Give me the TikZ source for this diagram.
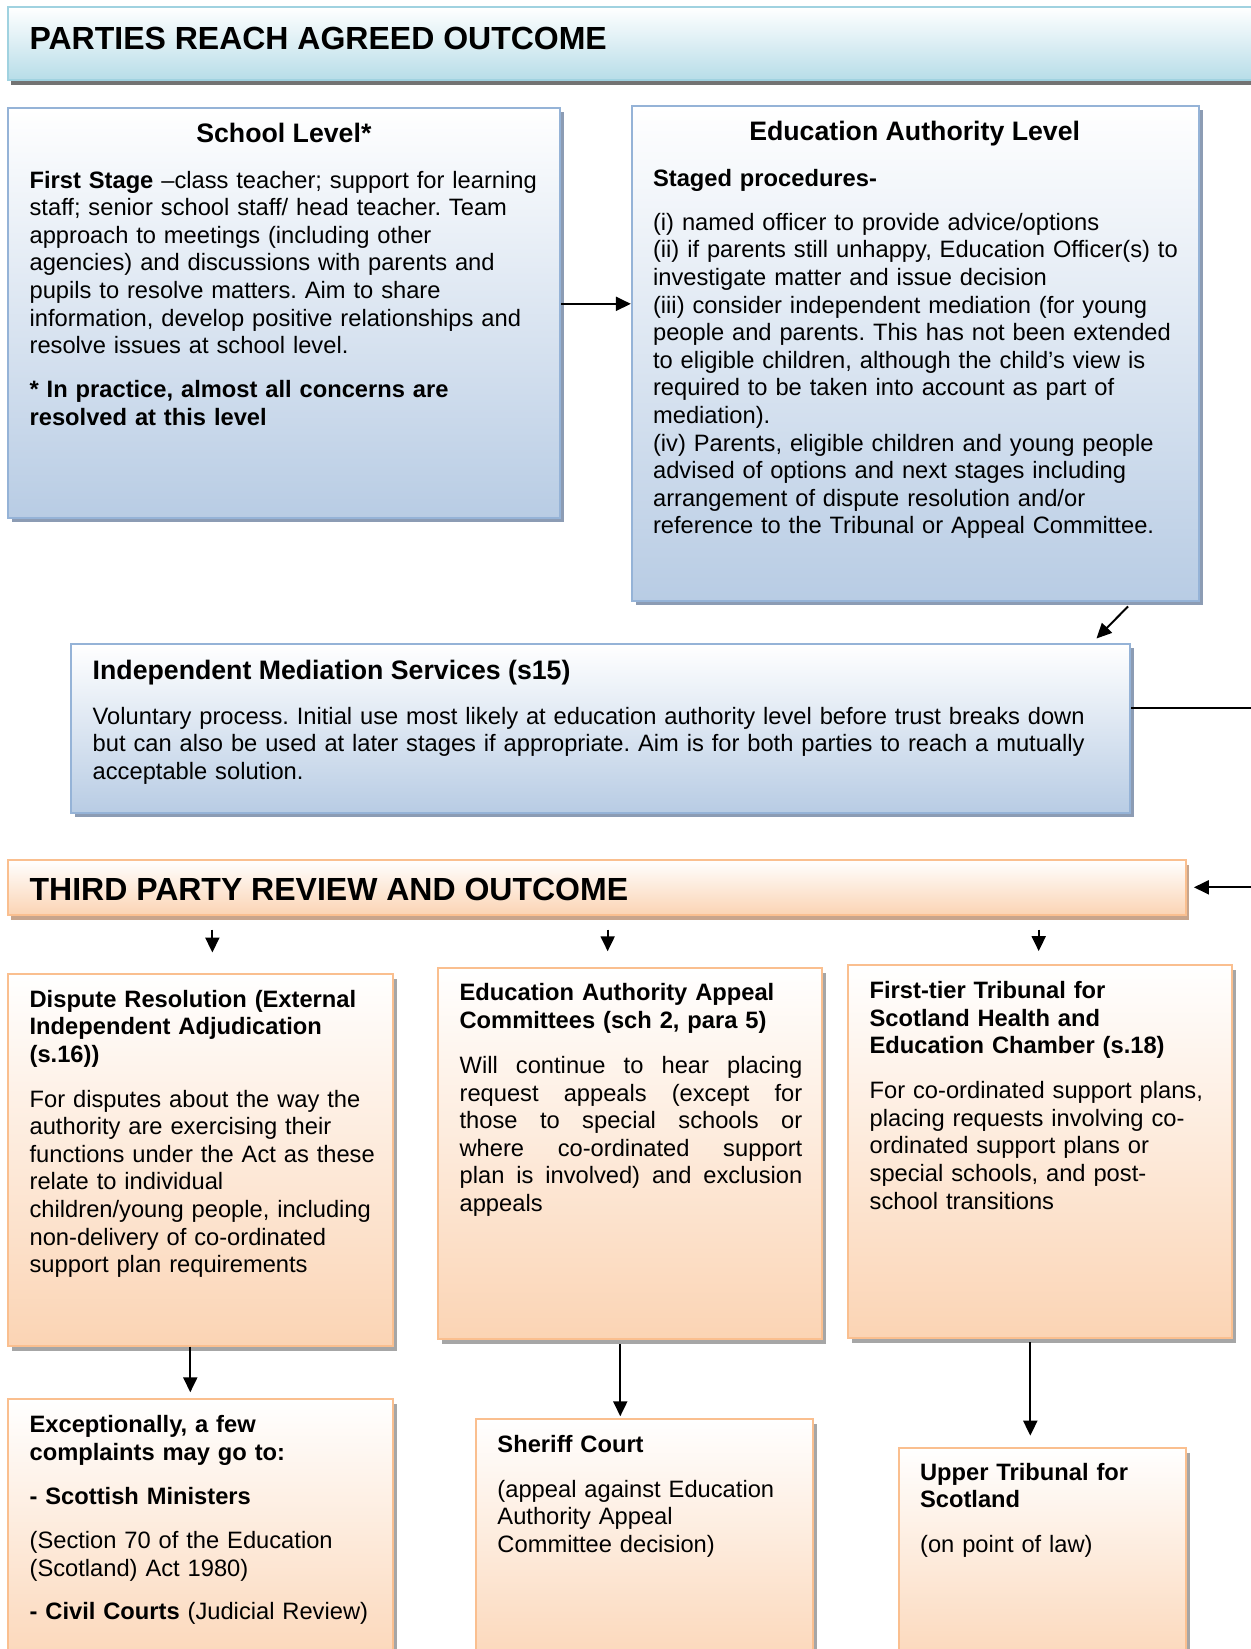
\documentclass[tikz,border=0pt]{standalone}
\usepackage{fontspec}
\setmainfont{Liberation Sans}
\usetikzlibrary{arrows.meta,fit,shadows}
\frenchspacing
\definecolor{bluebot}{RGB}{184,204,228}
\definecolor{blueline}{RGB}{149,179,215}
\definecolor{blueshadow}{RGB}{140,156,180}
\definecolor{tealbot}{RGB}{183,221,232}
\definecolor{tealline}{RGB}{160,210,224}
\definecolor{orbot}{RGB}{251,212,180}
\definecolor{orline}{RGB}{250,191,143}
\definecolor{orshadow}{RGB}{200,165,140}
\newcommand\jline[1]{\leavevmode\hbox to 342.7pt{#1}}
\tikzset{
  x=1.0513pt, y=-1.0513pt,
  bluebox/.style={draw=blueline, line width=2pt, top color=white, bottom color=bluebot, inner sep=0pt,
    drop shadow={shadow xshift=4pt, shadow yshift=-4pt, opacity=1, fill=blueshadow}},
  tealbanner/.style={draw=tealline, line width=2pt, top color=white, bottom color=tealbot, inner sep=0pt,
    drop shadow={shadow xshift=3pt, shadow yshift=-5pt, opacity=0.55, fill=black}},
  orbox/.style={draw=orline, line width=2pt, top color=white, bottom color=orbot, inner sep=0pt,
    drop shadow={shadow xshift=4pt, shadow yshift=-5pt, opacity=0.35, fill=black}},
  orbanner/.style={draw=orline, line width=2pt, top color=white, bottom color=orbot, inner sep=0pt,
    drop shadow={shadow xshift=3pt, shadow yshift=-5pt, opacity=1, fill=orshadow}},
  txt/.style={anchor=base west, inner sep=0pt, text width=700pt, align=left, font=\fontsize{23.7}{27.6}\selectfont},
  btxt/.style={txt, font=\fontsize{23.7}{27.6}\selectfont\bfseries},
  ttl/.style={anchor=base, inner sep=0pt, font=\fontsize{26.7}{30}\selectfont\bfseries},
  bannertxt/.style={anchor=base west, inner sep=0pt, font=\fontsize{32}{36}\selectfont\bfseries},
  arr/.style={-{Triangle[length=15pt,width=14pt]}, line width=2pt, black},
}
\begin{document}
\begin{tikzpicture}
\path[use as bounding box] (0,0) rectangle (1189,1568.5);

% ---------- top banner ----------
\node[tealbanner, fit={(8,7)(1230,76)}] (pra) {};
\node[bannertxt] (pratxt) at (28,47) {PARTIES REACH AGREED OUTCOME};

% ---------- school level ----------
\node[bluebox, fit={(8,103)(533,493)}] (school) {};
\node[ttl] (schooltitle) at (270,136) {School Level*};
\node[txt] (schoolbody) at (28,179) {\textbf{First Stage} –class teacher; support for learning\\
staff; senior school staff/ head teacher. Team\\
approach to meetings (including other\\
agencies) and discussions with parents and\\
pupils to resolve matters. Aim to share\\
information, develop positive relationships and\\
resolve issues at school level.};
\node[btxt] (schoolnote) at (28,378) {* In practice, almost all concerns are\\
resolved at this level};

% ---------- education authority level ----------
\node[bluebox, fit={(601,101)(1140,572)}] (ea) {};
\node[ttl] (eatitle) at (870,134) {Education Authority Level};
\node[btxt] (eastaged) at (621,177) {Staged procedures-};
\node[txt] (eabody) at (621,219) {(i) named officer to provide advice/options\\
(ii) if parents still unhappy, Education Officer(s) to\\
investigate matter and issue decision\\
(iii) consider independent mediation (for young\\
people and parents. This has not been extended\\
to eligible children, although the child’s view is\\
required to be taken into account as part of\\
mediation).\\
(iv) Parents, eligible children and young people\\
advised of options and next stages including\\
arrangement of dispute resolution and/or\\
reference to the Tribunal or Appeal Committee.};

% ---------- mediation ----------
\node[bluebox, fit={(68,613)(1075,773)}] (med) {};
\node[ttl, anchor=base west] (medtitle) at (88,646) {Independent Mediation Services (s15)};
\node[txt, text width=1150pt] (medbody) at (88,689) {Voluntary process. Initial use most likely at education authority level before trust breaks down\\
but can also be used at later stages if appropriate. Aim is for both parties to reach a mutually\\
acceptable solution.};

% ---------- third party banner ----------
\node[orbanner, fit={(8,818)(1128,870)}] (tpr) {};
\node[bannertxt] (tprtxt) at (28,857) {THIRD PARTY REVIEW AND OUTCOME};

% ---------- dispute resolution ----------
\node[orbox, fit={(8,926)(374,1280)}] (dr) {};
\node[btxt] (drtitle) at (28,958) {Dispute Resolution (External\\
Independent Adjudication\\
(s.16))};
\node[txt] (drbody) at (28,1053) {For disputes about the way the\\
authority are exercising their\\
functions under the Act as these\\
relate to individual\\
children/young people, including\\
non-delivery of co-ordinated\\
support plan requirements};

% ---------- appeal committees ----------
\node[orbox, fit={(417,921)(782,1274)}] (eaac) {};
\node[btxt] (eaactitle) at (437,952) {Education Authority Appeal\\
Committees (sch 2, para 5)};
\node[txt] (eaacbody) at (437,1021) {\jline{Will\hfil\ continue\hfil\ to\hfil\ hear\hfil\ placing}\\
\jline{request\hfil\ appeals\hfil\ (except\hfil\ for}\\
\jline{those\hfil\ to\hfil\ special\hfil\ schools\hfil\ or}\\
\jline{where\hfil\ co-ordinated\hfil\ support}\\
\jline{plan\hfil\ is\hfil\ involved)\hfil\ and\hfil\ exclusion}\\
appeals};

% ---------- first-tier tribunal ----------
\node[orbox, fit={(807,918)(1172,1273)}] (ftt) {};
\node[btxt] (ftttitle) at (827,950) {First-tier Tribunal for\\
Scotland Health and\\
Education Chamber (s.18)};
\node[txt] (fttbody) at (827,1045) {For co-ordinated support plans,\\
placing requests involving co-\\
ordinated support plans or\\
special schools, and post-\\
school transitions};

% ---------- exceptionally ----------
\node[orbox, fit={(8,1331)(374,1600)}] (exc) {};
\node[btxt] (exctitle) at (28,1363) {Exceptionally, a few\\
complaints may go to:};
\node[btxt] (excmin) at (28,1431) {- Scottish Ministers};
\node[txt] (excsec) at (28,1473) {(Section 70 of the Education\\
(Scotland) Act 1980)};
\node[txt] (excciv) at (28,1540) {\textbf{- Civil Courts} (Judicial Review)};

% ---------- sheriff court ----------
\node[orbox, fit={(453,1350)(773,1600)}] (sher) {};
\node[btxt] (shertitle) at (473,1382) {Sheriff Court};
\node[txt] (sherbody) at (473,1424) {(appeal against Education\\
Authority Appeal\\
Committee decision)};

% ---------- upper tribunal ----------
\node[orbox, fit={(855,1377)(1128,1600)}] (upper) {};
\node[btxt] (uppertitle) at (875,1408) {Upper Tribunal for\\
Scotland};
\node[txt] (upperbody) at (875,1477) {(on point of law)};

% ---------- connectors ----------
\coordinate (h1) at (560,289);
\draw[arr] (school.east |- h1) -- (ea.west |- h1);
\coordinate (d1) at (1073,0);
\coordinate (d2) at (1043,0);
\draw[arr] ([yshift=-4pt]ea.south -| d1) -- ([yshift=5pt]med.north -| d2);
\coordinate (rt) at (1225,0);
\draw[arr] ([yshift=21pt]med.east) -| (rt |- tpr.east) -- ([xshift=7pt]tpr.east);
\coordinate (a1) at (202,0);
\coordinate (a2) at (578,0);
\coordinate (a3) at (988,0);
\draw[arr] ([yshift=-14pt]tpr.south -| a1) -- ([yshift=20pt]dr.north -| a1);
\draw[arr] ([yshift=-14pt]tpr.south -| a2) -- ([yshift=16pt]eaac.north -| a2);
\draw[arr] ([yshift=-14pt]tpr.south -| a3) -- ([yshift=13pt]ftt.north -| a3);
\coordinate (b1) at (181,0);
\coordinate (b2) at (590,0);
\coordinate (b3) at (980,0);
\draw[arr, shorten >=6pt] (dr.south -| b1) -- (exc.north -| b1);
\draw[arr, shorten <=4pt, shorten >=2pt] (eaac.south -| b2) -- (sher.north -| b2);
\draw[arr, shorten <=3pt, shorten >=11pt] (ftt.south -| b3) -- (upper.north -| b3);
\end{tikzpicture}
\end{document}
